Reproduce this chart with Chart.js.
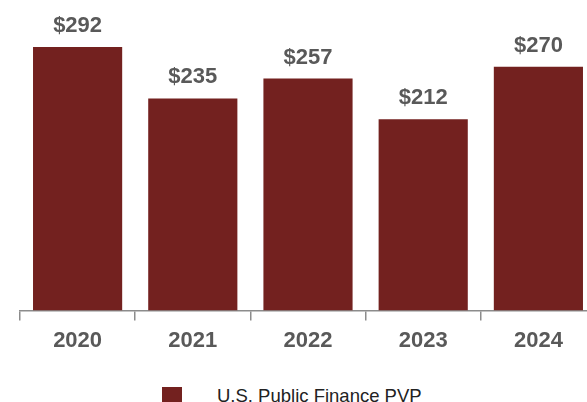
<!DOCTYPE html>
<html>
<head>
<meta charset="utf-8">
<script src="https://cdn.jsdelivr.net/npm/chart.js@4/dist/chart.umd.min.js"></script>
<style>
  body { margin: 0; width: 587px; height: 402px; overflow: hidden; background: #fff; position: relative; font-family: "Liberation Sans", Arial, sans-serif; }
  #graph { position: absolute; left: 0; top: 0; }
  #legend { position: absolute; left: 162px; top: 385px; display: flex; align-items: center; font-size: 18.5px; color: #222; }
  #legend span.box { display: inline-block; width: 20px; height: 18px; background: #73211F; margin-right: 35px; }
</style>
</head>
<body>
<canvas id="graph" width="600" height="361"></canvas>
<div id="legend"></div>
<script>
const years = ['2020', '2021', '2022', '2023', '2024']
const pvp = [292, 235, 257, 212, 270]
const seriesName = 'U.S. Public Finance PVP'
const barColor = '#73211F'

// value labels above bars (no datalabels plugin available offline)
const valueLabels = {
    id: 'valueLabels',
    afterDatasetsDraw(chart) {
        const ctx = chart.ctx
        ctx.save()
        ctx.font = 'bold 22px "Liberation Sans", Arial, sans-serif'
        ctx.fillStyle = '#595959'
        ctx.textAlign = 'center'
        ctx.textBaseline = 'alphabetic'
        chart.getDatasetMeta(0).data.forEach((bar, i) => {
            ctx.fillText('$' + pvp[i], bar.x, bar.y - 15)
        })
        ctx.restore()
    }
}

new Chart(document.querySelector('#graph'), {
    type: 'bar',
    data: {
        labels: years,
        datasets: [{
            label: seriesName,
            data: pvp,
            backgroundColor: barColor,
            borderWidth: 0,
            barPercentage: 0.9,
            categoryPercentage: 0.86
        }]
    },
    options: {
        responsive: false,
        animation: false,
        layout: { padding: { left: 20, right: 4, top: 0, bottom: 0 } },
        plugins: {
            legend: { display: false },
            tooltip: { enabled: false }
        },
        scales: {
            y: { display: false, min: 0, max: 344 },
            x: {
                grid: { display: true, drawOnChartArea: false, tickLength: 10, color: '#8c8c8c', lineWidth: 1.5 },
                border: { display: true, color: '#8c8c8c', width: 1.5 },
                ticks: {
                    color: '#595959',
                    padding: 7,
                    font: { family: '"Liberation Sans", Arial, sans-serif', size: 22, weight: 'bold' }
                }
            }
        }
    },
    plugins: [valueLabels]
})

document.querySelector('#legend').innerHTML = '<span class="box"></span><span>' + seriesName + '</span>'
</script>
</body>
</html>
